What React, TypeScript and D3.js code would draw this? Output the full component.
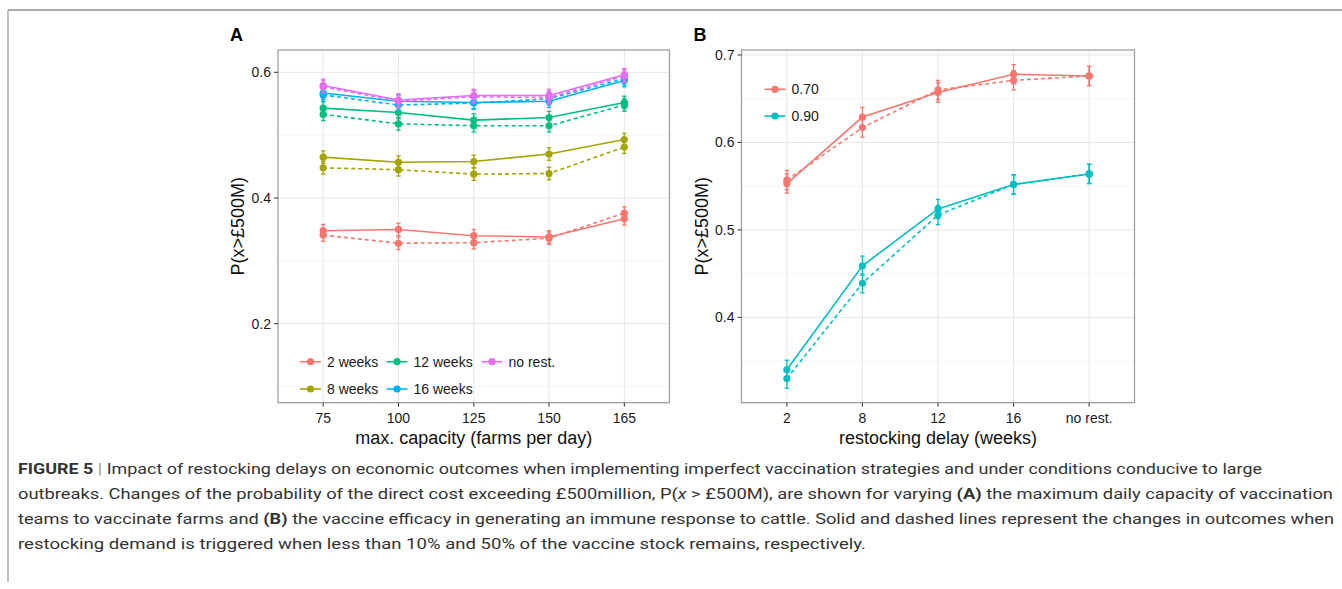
import React from "react";
import { scalePoint, scaleLinear, line } from "d3";

// panel A: x categories and series (solid = 10% trigger, dashed = 50% trigger)
const capacity = ["75", "100", "125", "150", "165"];
const delaysA = ["2 weeks", "8 weeks", "12 weeks", "16 weeks", "no rest."];
const coloursA = ["#F8766D", "#A3A500", "#00BF7D", "#00B0F6", "#E76BF3"];

const w2Solid = [0.348, 0.35, 0.34, 0.338, 0.367];
const w2Dashed = [0.341, 0.328, 0.329, 0.336, 0.376];
const w8Solid = [0.465, 0.457, 0.458, 0.47, 0.493];
const w8Dashed = [0.448, 0.445, 0.438, 0.439, 0.481];
const w12Solid = [0.543, 0.536, 0.524, 0.528, 0.552];
const w12Dashed = [0.533, 0.518, 0.515, 0.515, 0.548];
const w16Solid = [0.567, 0.554, 0.552, 0.554, 0.587];
const w16Dashed = [0.564, 0.548, 0.551, 0.558, 0.59];
const noRestSolid = [0.579, 0.556, 0.563, 0.563, 0.596];
const noRestDashed = [0.577, 0.554, 0.561, 0.56, 0.594];

const yTicksA = [0.2, 0.4, 0.6];
const yMinorA = [0.1, 0.3, 0.5];
const errA = 0.01;

// panel B
const delaysB = ["2", "8", "12", "16", "no rest."];
const efficacy = ["0.70", "0.90"];
const coloursB = ["#F8766D", "#00BFC4"];
const e70Solid = [0.553, 0.629, 0.657, 0.678, 0.676];
const e70Dashed = [0.557, 0.617, 0.66, 0.671, 0.676];
const e90Solid = [0.34, 0.459, 0.524, 0.552, 0.564];
const e90Dashed = [0.33, 0.439, 0.517, 0.552, 0.564];

const yTicksB = [0.4, 0.5, 0.6, 0.7];
const yMinorB = [0.35, 0.45, 0.55, 0.65];
const errB = 0.011;

const seriesA = [
  [w2Solid, w2Dashed],
  [w8Solid, w8Dashed],
  [w12Solid, w12Dashed],
  [w16Solid, w16Dashed],
  [noRestSolid, noRestDashed],
];
const seriesB = [
  [e70Solid, e70Dashed],
  [e90Solid, e90Dashed],
];

const FONT = "Liberation Sans, Arial, sans-serif";

function Panel({ cats, series, colours, yDomain, yTicks, yMinor, err, left, right, top, bottom, xTitle, label }) {
  const x = scalePoint().domain(cats).range([left, right]).padding(0.6);
  const y = scaleLinear().domain(yDomain).range([bottom, top]);
  const gen = line<number>()
    .x((_, i) => x(cats[i]))
    .y((d) => y(d));

  return (
    <g>
      {yMinor.map((t) => (
        <line key={"m" + t} x1={left} x2={right} y1={y(t)} y2={y(t)} stroke="#f2f2f2" strokeWidth={0.8} />
      ))}
      {yTicks.map((t) => (
        <line key={"g" + t} x1={left} x2={right} y1={y(t)} y2={y(t)} stroke="#e6e6e6" strokeWidth={1} />
      ))}
      {cats.map((c) => (
        <line key={"v" + c} x1={x(c)} x2={x(c)} y1={top} y2={bottom} stroke="#e6e6e6" strokeWidth={1} />
      ))}

      {series.map((pair, si) =>
        pair.map((vals, k) => (
          <g key={si + "-" + k} stroke={colours[si]} fill={colours[si]}>
            <path d={gen(vals)} fill="none" strokeWidth={1.6} strokeDasharray={k === 1 ? "4,3" : null} />
            {vals.map((v, i) => (
              <g key={i}>
                <line x1={x(cats[i])} x2={x(cats[i])} y1={y(v - err)} y2={y(v + err)} strokeWidth={1.3} />
                <line x1={x(cats[i]) - 2.2} x2={x(cats[i]) + 2.2} y1={y(v - err)} y2={y(v - err)} strokeWidth={1.3} />
                <line x1={x(cats[i]) - 2.2} x2={x(cats[i]) + 2.2} y1={y(v + err)} y2={y(v + err)} strokeWidth={1.3} />
                <circle cx={x(cats[i])} cy={y(v)} r={3.6} stroke="none" />
              </g>
            ))}
          </g>
        ))
      )}

      <rect x={left} y={top} width={right - left} height={bottom - top} fill="none" stroke="#a0a0a0" strokeWidth={1.3} />

      {yTicks.map((t) => (
        <g key={"yt" + t}>
          <line x1={left - 4} x2={left} y1={y(t)} y2={y(t)} stroke="#333" strokeWidth={1} />
          <text x={left - 7} y={y(t)} dy="0.35em" textAnchor="end" fontSize={14} fill="#1a1a1a" fontFamily={FONT}>
            {t.toFixed(1)}
          </text>
        </g>
      ))}
      {cats.map((c) => (
        <g key={"xt" + c}>
          <line x1={x(c)} x2={x(c)} y1={bottom} y2={bottom + 4} stroke="#333" strokeWidth={1} />
          <text x={x(c)} y={bottom + 15} dy="0.35em" textAnchor="middle" fontSize={14} fill="#1a1a1a" fontFamily={FONT}>
            {c}
          </text>
        </g>
      ))}
      <text x={(left + right) / 2} y={bottom + 35} dy="0.35em" textAnchor="middle" fontSize={18} fill="#111" fontFamily={FONT}>
        {xTitle}
      </text>
      <text
        transform={`translate(${left - 40},${(top + bottom) / 2}) rotate(-90)`}
        dy="0.35em"
        textAnchor="middle"
        fontSize={18}
        fill="#111"
        fontFamily={FONT}
      >
        P(x&gt;£500M)
      </text>
      <text x={left - 48} y={top - 15} dy="0.35em" fontSize={18} fontWeight="bold" fill="#000" fontFamily={FONT}>
        {label}
      </text>
    </g>
  );
}

function LegendKey({ x0, y0, colour, text }) {
  return (
    <g>
      <line x1={x0} x2={x0 + 21} y1={y0} y2={y0} stroke={colour} strokeWidth={1.6} />
      <circle cx={x0 + 10.5} cy={y0} r={3.6} fill={colour} />
      <text x={x0 + 27} y={y0} dy="0.35em" fontSize={14} fill="#1a1a1a" fontFamily={FONT}>
        {text}
      </text>
    </g>
  );
}

const CAP_FONT = "Roboto, 'Liberation Sans', sans-serif";

export default function App() {
  const legendColsA = [300, 386.5, 481.5];
  const legendRowsA = [361.7, 389];
  return (
    <div style={{ position: "absolute", left: 0, top: 0 }}>
      <svg width={1342} height={589} style={{ display: "block", background: "#fff" }}>
        <line x1={8} x2={1342} y1={10} y2={10} stroke="#aaa" strokeWidth={2} />
        <line x1={8} x2={8} y1={10} y2={582} stroke="#aaa" strokeWidth={1.5} />

        <Panel
          cats={capacity}
          series={seriesA}
          colours={coloursA}
          yDomain={[0.0743, 0.6355]}
          yTicks={yTicksA}
          yMinor={yMinorA}
          err={errA}
          left={278}
          right={669.5}
          top={50}
          bottom={402.7}
          xTitle="max. capacity (farms per day)"
          label="A"
        />
        {delaysA.map((d, i) => (
          <LegendKey
            key={d}
            x0={legendColsA[Math.floor(i / 2)]}
            y0={legendRowsA[i % 2]}
            colour={coloursA[i]}
            text={d}
          />
        ))}

        <Panel
          cats={delaysB}
          series={seriesB}
          colours={coloursB}
          yDomain={[0.3024, 0.7057]}
          yTicks={yTicksB}
          yMinor={yMinorB}
          err={errB}
          left={741.5}
          right={1134.5}
          top={50}
          bottom={402.7}
          xTitle="restocking delay (weeks)"
          label="B"
        />
        {efficacy.map((e, i) => (
          <LegendKey key={e} x0={764.5} y0={[89.3, 116][i]} colour={coloursB[i]} text={e} />
        ))}

        <g fontFamily={CAP_FONT} fontSize={15.5} fill="#333">
          <text x={18} y={469} dy="0.35em" textLength={1244} lengthAdjust="spacingAndGlyphs">
            <tspan fontWeight="bold">FIGURE 5</tspan>
            <tspan fill="#999"> | </tspan>
            Impact of restocking delays on economic outcomes when implementing imperfect vaccination strategies and under conditions conducive to large
          </text>
          <text x={18} y={494} dy="0.35em" textLength={1315} lengthAdjust="spacingAndGlyphs">
            outbreaks. Changes of the probability of the direct cost exceeding £500million, P(<tspan fontStyle="italic">x</tspan> &gt; £500M), are shown for varying <tspan fontWeight="bold">(A)</tspan> the maximum daily capacity of vaccination
          </text>
          <text x={18} y={519} dy="0.35em" textLength={1316} lengthAdjust="spacingAndGlyphs">
            teams to vaccinate farms and <tspan fontWeight="bold">(B)</tspan> the vaccine efficacy in generating an immune response to cattle. Solid and dashed lines represent the changes in outcomes when
          </text>
          <text x={18} y={544} dy="0.35em" textLength={848} lengthAdjust="spacingAndGlyphs">
            restocking demand is triggered when less than 10% and 50% of the vaccine stock remains, respectively.
          </text>
        </g>
      </svg>
    </div>
  );
}
